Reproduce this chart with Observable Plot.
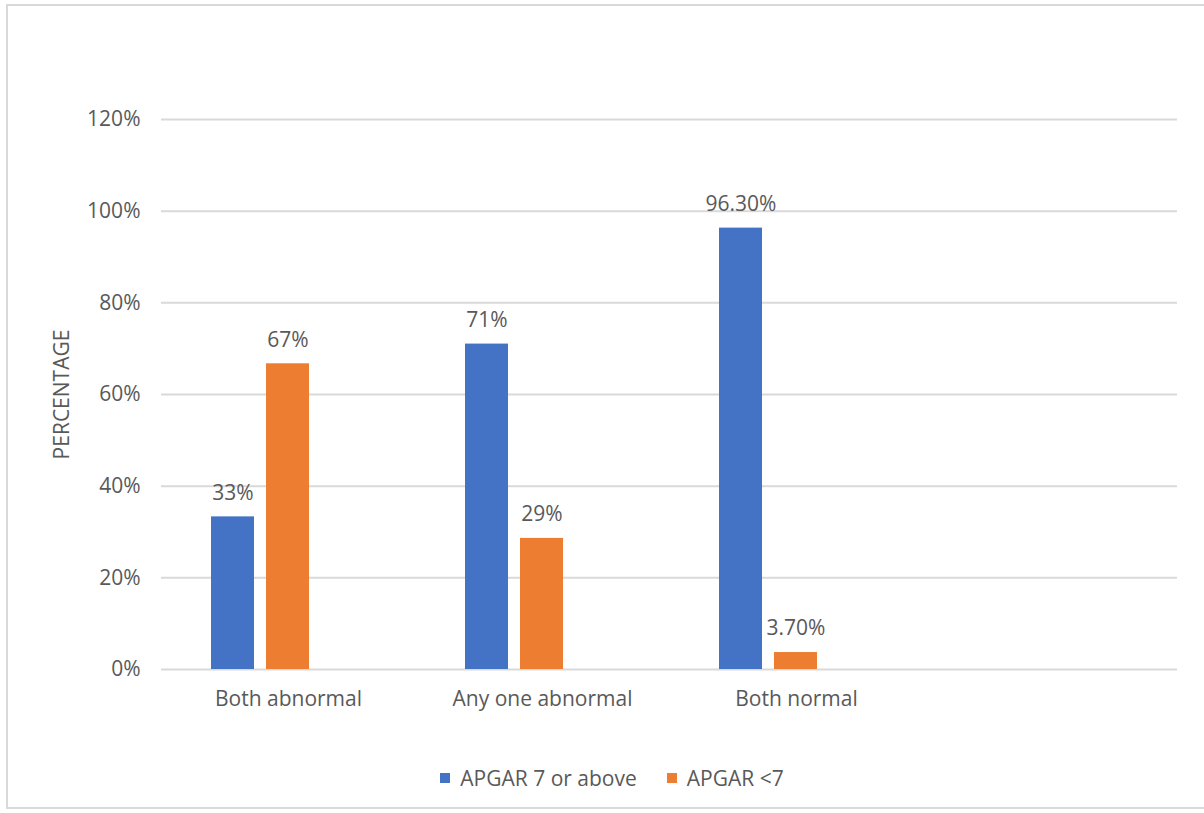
<!DOCTYPE html>
<html>
<head>
<meta charset="utf-8">
<script src="https://cdn.jsdelivr.net/npm/d3@7"></script>
<script src="https://cdn.jsdelivr.net/npm/@observablehq/plot@0.6"></script>
<style>
  html, body { margin: 0; padding: 0; background: #fff; overflow: hidden; }
  body { width: 1204px; height: 813px; position: relative; font-family: "Open Sans", sans-serif; }
  #frame { position: absolute; left: 6px; top: 4px; width: 1500px; height: 805px; border: 2px solid #d9d9d9; border-right: none; box-sizing: border-box; }
  #chart { position: absolute; left: 0; top: 0; }
  #legend { position: absolute; left: 0; top: 765px; width: 1224px; height: 26px; display: flex; justify-content: center; align-items: center; gap: 30px; font-size: 21px; color: #595959; }
  .item { display: flex; align-items: center; gap: 10px; }
  .sw { width: 10px; height: 10px; display: inline-block; }
</style>
</head>
<body>
<div id="frame"></div>
<div id="chart"></div>
<div id="legend"></div>
<script>
const categories = ["Both abnormal", "Any one abnormal", "Both normal", " "];
const seriesNames = ["APGAR 7 or above", "APGAR <7", "(blank)"];
const colors = ["#4472C4", "#ED7D31", "#A5A5A5"];
const apgar7Values = [33.3, 71.0, 96.3];
const apgar7Labels = ["33%", "71%", "96.30%"];
const apgarLowValues = [66.7, 28.6, 3.7];
const apgarLowLabels = ["67%", "29%", "3.70%"];
const yTicks = [0, 20, 40, 60, 80, 100, 120];

const data = [];
apgar7Values.forEach((v, i) => data.push({cat: categories[i], series: seriesNames[0], value: v, label: apgar7Labels[i]}));
apgarLowValues.forEach((v, i) => data.push({cat: categories[i], series: seriesNames[1], value: v, label: apgarLowLabels[i]}));
const gridData = categories.flatMap(c => yTicks.map(t => ({cat: c, t})));

const chart = Plot.plot({
  width: 1204,
  height: 745,
  marginTop: 119,
  marginBottom: 76,
  marginLeft: 160,
  marginRight: 26,
  style: {fontFamily: "Open Sans, sans-serif", fontSize: "21px", color: "#595959", background: "transparent"},
  fx: {domain: categories, padding: 0, label: null, axis: "bottom", tickSize: 0, tickPadding: 22},
  x: {domain: seriesNames, axis: null, paddingInner: 0.2143, paddingOuter: 0.88},
  y: {domain: [0, 120], ticks: yTicks, tickFormat: d => d + "%", tickSize: 0, tickPadding: 21,
      label: "PERCENTAGE", labelAnchor: "center", labelOffset: 107, labelArrow: "none"},
  color: {domain: seriesNames, range: colors},
  marks: [
    Plot.ruleY(gridData, {fx: "cat", y: "t", stroke: "#d9d9d9", strokeWidth: 2}),
    Plot.barY(data, {fx: "cat", x: "series", y: "value", fill: "series"}),
    Plot.text(data, {fx: "cat", x: "series", y: "value", text: "label", dy: -24, fill: "#595959", fontSize: 21})
  ]
});
document.getElementById("chart").appendChild(chart);

const legend = document.getElementById("legend");
seriesNames.slice(0, 2).forEach((s, i) => {
  const it = document.createElement("div");
  it.className = "item";
  it.innerHTML = `<span class="sw" style="background:${colors[i]}"></span><span>${s.replace("<", "&lt;")}</span>`;
  legend.appendChild(it);
});
</script>
</body>
</html>
